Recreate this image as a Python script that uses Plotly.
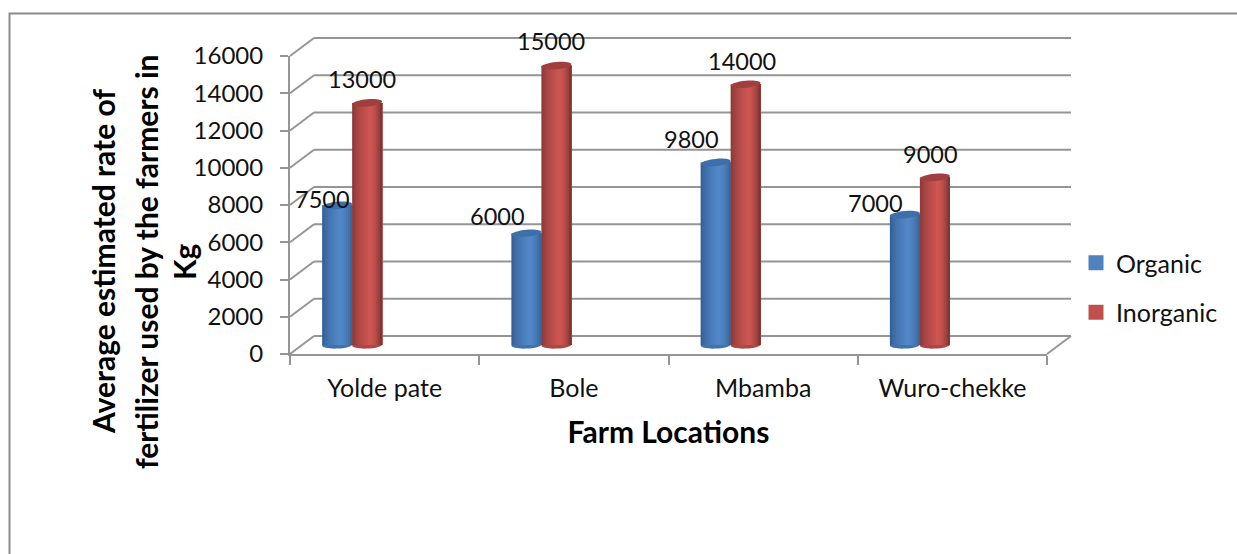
import plotly.graph_objects as go

# Chart data
locations = ["Yolde pate", "Bole", "Mbamba", "Wuro-chekke"]
organic = [7500, 6000, 9800, 7000]
inorganic = [13000, 15000, 14000, 9000]
y_ticks = [0, 2000, 4000, 6000, 8000, 10000, 12000, 14000, 16000]
y_title_lines = ["Average estimated rate of", "fertilizer used by the farmers in", "Kg"]

# Canvas and front-axis geometry, in pixels
W, H = 1237, 554
FRONT_L, FRONT_R = 290.0, 1047.0
FRONT_ZERO, FRONT_TOP = 354.0, 56.0
Y_MAX = 16000
CAT_W = (FRONT_R - FRONT_L) / len(locations)
PX_PER_UNIT = (FRONT_ZERO - FRONT_TOP) / Y_MAX
DEPTH_X, DEPTH_Y = 12.0, 9.0  # half the wall depth, in pixels

# The overlay axes sit half a wall depth behind the front axes and carry the bars
OV_L, OV_R, OV_BOTTOM, OV_TOP = 270.0, 1085.0, 372.0, 24.0
OV_ZERO_X = FRONT_L + CAT_W / 2 + DEPTH_X
OV_ZERO_Y = FRONT_ZERO - DEPTH_Y

GRID = "#959595"
TEXT = "#111111"
FONT = "Lato"
NUM_SIZE = 24
LABEL_SIZE = 23.5
CAT_SIZE = 25
TITLE_SIZE = 30


def blend(a, b, t):
    return "#%02x%02x%02x" % tuple(round(a[i] + (b[i] - a[i]) * t) for i in range(3))


def shade(dark_l, light, dark_r, t):
    # Cylinder shading: dark at both rims, brightest a little past the middle
    peak = 0.58
    if t < peak:
        return blend(dark_l, light, (t / peak) ** 0.6)
    return blend(light, dark_r, ((t - peak) / (1 - peak)) ** 1.8)


BLUE = ((0x2e, 0x58, 0x8a), (0x52, 0x88, 0xc8), (0x34, 0x62, 0x96))
RED = ((0x80, 0x35, 0x33), (0xce, 0x56, 0x53), (0x74, 0x30, 0x2e))
BLUE_CAP, RED_CAP = "#3f6fa8", "#a03f3d"
BAR_PX = 30.0
STRIPS = 15

fig = go.Figure()

# Blue and red cylinders: each later strip paints from its left edge to the rim
series = [
    ("Organic", organic, -74.5, BLUE),
    ("Inorganic", inorganic, -44.5, RED),
]
for name, values, left_px, cols in series:
    for k in range(STRIPS):
        strip_left = k * BAR_PX / STRIPS
        fig.add_trace(go.Bar(
            x=locations, y=values, xaxis="x2", yaxis="y2",
            width=(BAR_PX - strip_left) / CAT_W,
            offset=(left_px + strip_left) / CAT_W,
            marker=dict(color=shade(*cols, (k + 0.5) / STRIPS), line=dict(width=0)),
            showlegend=False, hoverinfo="skip",
        ))

# Legend swatches, plus a hidden trace that keeps the front axes in place
legend_colors = {"Organic": "#4f81bd", "Inorganic": "#c0504d"}
for name, color in legend_colors.items():
    fig.add_trace(go.Scatter(
        x=[None], y=[None], name=name, mode="markers", legendgroup=name,
        marker=dict(symbol="square", size=15, color=color),
    ))
fig.add_trace(go.Scatter(x=locations, y=[0] * 4, mode="markers", marker=dict(opacity=0),
                         showlegend=False, hoverinfo="skip"))

shapes = []
dx = DEPTH_X / CAT_W
x_lo, x_hi = -0.5, len(locations) - 0.5


def wall(x0, x1, py0, py1, value):
    shapes.append(dict(
        type="line", xref="x2", yref="y2", x0=x0, x1=x1,
        ysizemode="pixel", yanchor=value, y0=py0, y1=py1,
        line=dict(color=GRID, width=2), layer="below",
    ))


# Back-wall gridlines and the side-wall diagonals that lead into them
for v in y_ticks:
    wall(x_lo + dx, x_hi + dx, DEPTH_Y, DEPTH_Y, v)
    wall(x_lo - dx, x_lo + dx, -DEPTH_Y, DEPTH_Y, v)
wall(x_hi - dx, x_hi + dx, -DEPTH_Y, DEPTH_Y, 0)


def cap(index, left_px, value, color, layer, tilt):
    # Tilted ellipse at the end of a cylinder, anchored on the value
    cx = left_px + BAR_PX / 2
    rx, ry = BAR_PX / 2, 3.6
    k = 0.5523
    pts = [(-rx, 0), (-rx, k * ry), (-k * rx, ry), (0, ry), (k * rx, ry), (rx, k * ry),
           (rx, 0), (rx, -k * ry), (k * rx, -ry), (0, -ry), (-k * rx, -ry), (-rx, -k * ry), (-rx, 0)]
    pts = [(x + cx, y + tilt * x / rx) for x, y in pts]
    path = "M%.2f,%.2f" % pts[0]
    for i in range(1, 13, 3):
        path += " C%.2f,%.2f %.2f,%.2f %.2f,%.2f" % (*pts[i], *pts[i + 1], *pts[i + 2])
    path += " Z"
    shapes.append(dict(
        type="path", xref="x2", yref="y2",
        xsizemode="pixel", ysizemode="pixel", xanchor=index, yanchor=value,
        path=path, fillcolor=color, line=dict(width=0), layer=layer,
    ))


for i in range(len(locations)):
    for name, values, left_px, cols in series:
        cap(i, left_px, 0, blend(cols[0], cols[1], 0.55), "below", 0.6)
    for name, values, left_px, cols in series:
        top = BLUE_CAP if name == "Organic" else RED_CAP
        cap(i, left_px, values[i], top, "above", 1.4)

# Chart-area frame: left and top edges only reach the canvas
shapes.append(dict(
    type="path", xref="paper", yref="paper",
    path="M%f,0 L%f,%f L1,%f" % (9.5 / W, 9.5 / W, 1 - 13.5 / H, 1 - 13.5 / H),
    line=dict(color="#8c8c8c", width=2),
))

annotations = []
blue_shift = [(-15, 6), (-29, 17), (-24, 23), (-29, 12)]
red_shift = [(-5, 24), (-5, 25), (-4, 23), (-4, 23)]
for i in range(len(locations)):
    for values, left_px, shifts in ((organic, -74.5, blue_shift), (inorganic, -44.5, red_shift)):
        annotations.append(dict(
            x=i, y=values[i], xref="x2", yref="y2", text=str(values[i]), showarrow=False,
            xshift=left_px + BAR_PX / 2 + shifts[i][0], yshift=shifts[i][1],
            font=dict(family=FONT, size=LABEL_SIZE, color=TEXT),
        ))

# Vertical axis title, one annotation per wrapped line
for line, line_x in zip(y_title_lines, [103, 146, 184]):
    annotations.append(dict(
        x=line_x / W, y=1 - 262 / H, xref="paper", yref="paper", showarrow=False,
        xanchor="center", yanchor="middle", textangle=-90,
        text="<b>%s</b>" % line,
        font=dict(family=FONT, size=TITLE_SIZE, color="#000000"),
    ))

fig.update_layout(
    template="none",
    width=W, height=H, autosize=False,
    margin=dict(l=0, r=0, t=0, b=0),
    paper_bgcolor="white", plot_bgcolor="rgba(0,0,0,0)",
    barmode="overlay",
    font=dict(family=FONT, size=NUM_SIZE, color=TEXT),
    shapes=shapes, annotations=annotations,
    legend=dict(
        x=1076 / W, y=1 - 240 / H, xanchor="left", yanchor="top",
        font=dict(family=FONT, size=CAT_SIZE, color=TEXT),
        tracegroupgap=14, bgcolor="rgba(0,0,0,0)",
    ),
    xaxis=dict(
        domain=[FRONT_L / W, FRONT_R / W], anchor="y", type="category",
        categoryorder="array", categoryarray=locations, range=[-0.5, 3.5],
        tickson="boundaries", ticks="outside", ticklen=9, tickwidth=2, tickcolor=GRID,
        showline=True, linecolor=GRID, linewidth=2, showgrid=False, zeroline=False,
        automargin=False, ticklabelstandoff=11, tickfont=dict(size=CAT_SIZE),
        title=dict(text="<b>Farm Locations</b>", standoff=21,
                   font=dict(family=FONT, size=TITLE_SIZE, color="#000000")),
    ),
    yaxis=dict(
        domain=[1 - FRONT_ZERO / H, 1 - FRONT_TOP / H], anchor="x", range=[0, Y_MAX],
        tickvals=y_ticks, tickformat="d", ticks="outside", ticklen=8, tickwidth=2, tickcolor=GRID,
        showline=True, linecolor=GRID, linewidth=2, showgrid=False, zeroline=False,
        automargin=False, ticklabelstandoff=12,
    ),
    xaxis2=dict(
        domain=[OV_L / W, OV_R / W], anchor="y2", type="category",
        categoryorder="array", categoryarray=locations,
        range=[(OV_L - OV_ZERO_X) / CAT_W, (OV_R - OV_ZERO_X) / CAT_W],
        visible=False, automargin=False,
    ),
    yaxis2=dict(
        domain=[1 - OV_BOTTOM / H, 1 - OV_TOP / H], anchor="x2",
        range=[(OV_ZERO_Y - OV_BOTTOM) / PX_PER_UNIT, (OV_ZERO_Y - OV_TOP) / PX_PER_UNIT],
        visible=False, automargin=False,
    ),
)

fig.write_html("out.html")
